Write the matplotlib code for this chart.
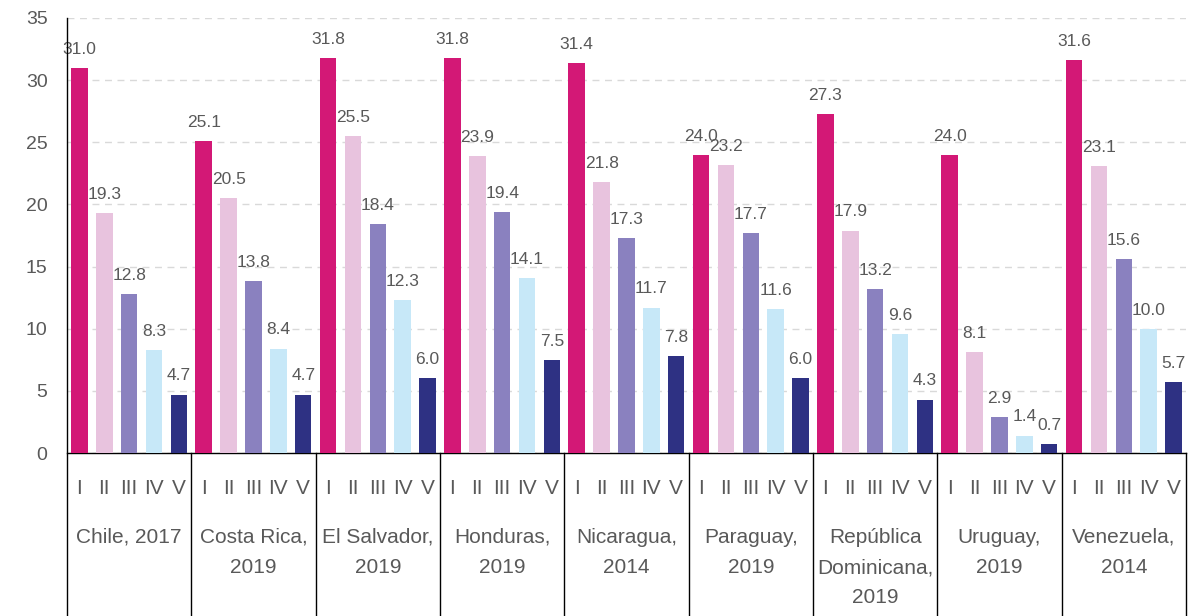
"""Quintile bar chart by country, recreated in matplotlib."""

import matplotlib

matplotlib.use("Agg")

import matplotlib.pyplot as plt
import numpy as np

countries = [
    "Chile, 2017",
    "Costa Rica,\n2019",
    "El Salvador,\n2019",
    "Honduras,\n2019",
    "Nicaragua,\n2014",
    "Paraguay,\n2019",
    "República\nDominicana,\n2019",
    "Uruguay,\n2019",
    "Venezuela,\n2014",
]
quintiles = ["I", "II", "III", "IV", "V"]
q1 = [31.0, 25.1, 31.8, 31.8, 31.4, 24.0, 27.3, 24.0, 31.6]
q2 = [19.3, 20.5, 25.5, 23.9, 21.8, 23.2, 17.9, 8.1, 23.1]
q3 = [12.8, 13.8, 18.4, 19.4, 17.3, 17.7, 13.2, 2.9, 15.6]
q4 = [8.3, 8.4, 12.3, 14.1, 11.7, 11.6, 9.6, 1.4, 10.0]
q5 = [4.7, 4.7, 6.0, 7.5, 7.8, 6.0, 4.3, 0.7, 5.7]
series = [q1, q2, q3, q4, q5]

colors = ["#D31876", "#E8C3DE", "#8A81BF", "#C7E8F8", "#2E3183"]
TEXT = "#595959"

plt.rcParams["font.family"] = ["Liberation Sans", "DejaVu Sans"]

fig = plt.figure(figsize=(11.96, 6.16), dpi=100)
ax = fig.add_axes([0.056, 0.2646, 0.9356, 0.7062])

x = np.arange(len(countries))
slot = 0.2
width = 0.133
for k, vals in enumerate(series):
    pos = x + (k - 2) * slot
    bars = ax.bar(pos, vals, width, color=colors[k], zorder=3)
    for b, v in zip(bars, vals):
        ax.annotate(f"{v:.1f}", (b.get_x() + b.get_width() / 2, v),
                    xytext=(0, 8), textcoords="offset points",
                    ha="center", va="bottom", fontsize=12.5, color=TEXT)

ax.set_xlim(-0.5, len(countries) - 0.5)
ax.set_ylim(0, 35)
ax.set_yticks(np.arange(0, 36, 5))
ax.tick_params(axis="y", length=0, pad=14, labelsize=14, labelcolor=TEXT)
ax.set_xticks([])
ax.grid(axis="y", color="#D9D9D9", linestyle=(0, (5, 4)), linewidth=1.0, zorder=0)

for s in ["top", "right"]:
    ax.spines[s].set_visible(False)
ax.spines["left"].set_visible(False)
ax.spines["bottom"].set_color("black")
ax.spines["bottom"].set_linewidth(1.0)

# group labels and separators below the axis
trans = ax.get_xaxis_transform()
bottom = -(616 - 453) / 435
for edge in np.arange(-0.5, len(countries), 1.0):
    top = 1.0 if edge == -0.5 else 0.0
    ax.plot([edge, edge], [top, bottom], color="black", linewidth=1.0,
            transform=trans, clip_on=False, zorder=4)

for i, name in enumerate(countries):
    for k, q in enumerate(quintiles):
        ax.text(i + (k - 2) * slot, -0.082, q, transform=trans,
                ha="center", va="center", fontsize=15, color=TEXT)
    ax.text(i, -0.172, name, transform=trans, ha="center", va="top",
            fontsize=15, color=TEXT, linespacing=1.75)

fig.savefig("out.png", dpi=100, facecolor="white")
